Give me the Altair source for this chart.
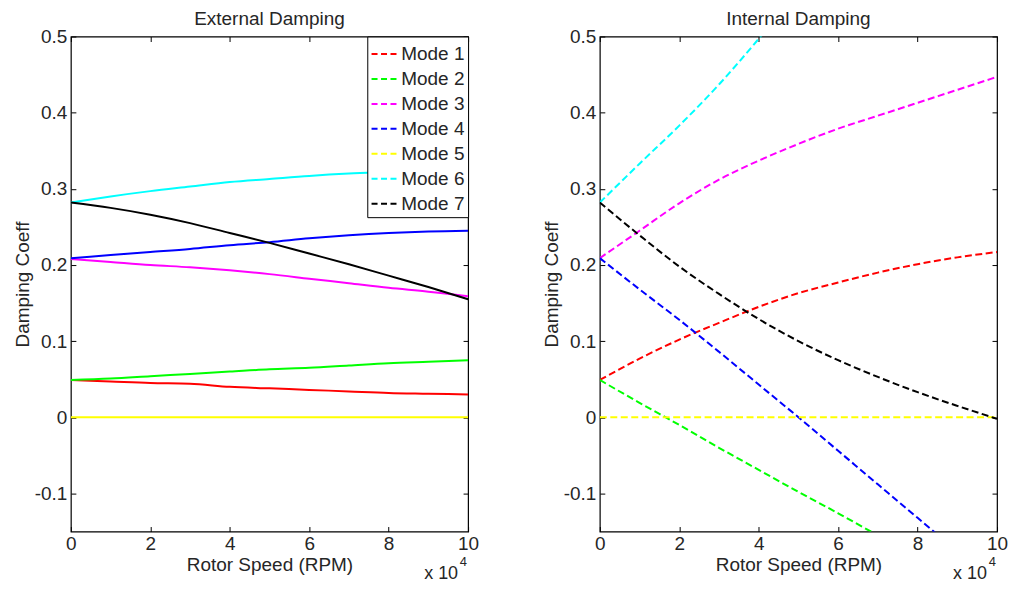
import altair as alt
import pandas as pd

rpm = [0, 10000, 20000, 30000, 40000, 50000, 60000, 70000, 80000, 90000, 100000]
modes = ["Mode 1", "Mode 2", "Mode 3", "Mode 4", "Mode 5", "Mode 6", "Mode 7"]
colors = ["#ff0000", "#00ff00", "#ff00ff", "#0000ff", "#ffff00", "#00ffff", "#000000"]

# External damping (solid lines)
ext_m1 = [0.049, 0.047, 0.045, 0.044, 0.040, 0.038, 0.036, 0.034, 0.032, 0.031, 0.030]
ext_m2 = [0.049, 0.051, 0.054, 0.057, 0.060, 0.063, 0.065, 0.068, 0.071, 0.073, 0.075]
ext_m3 = [0.208, 0.204, 0.200, 0.197, 0.193, 0.188, 0.182, 0.176, 0.170, 0.165, 0.159]
ext_m4 = [0.209, 0.213, 0.217, 0.221, 0.226, 0.230, 0.235, 0.239, 0.242, 0.244, 0.245]
ext_m5 = [0.0, 0.0, 0.0, 0.0, 0.0, 0.0, 0.0, 0.0, 0.0, 0.0, 0.0]
ext_m6 = [0.282, 0.290, 0.297, 0.303, 0.309, 0.313, 0.317, 0.320, 0.322, 0.324, 0.325]
ext_m7 = [0.282, 0.275, 0.266, 0.255, 0.242, 0.229, 0.215, 0.201, 0.186, 0.171, 0.155]

# Internal damping (dashed lines)
int_m1 = [0.049, 0.077, 0.102, 0.124, 0.145, 0.163, 0.177, 0.190, 0.201, 0.210, 0.217]
int_m2 = [0.049, 0.019, -0.010, -0.040, -0.069, -0.098, -0.126, -0.155, -0.183, -0.211, -0.239]
int_m3 = [0.209, 0.245, 0.281, 0.312, 0.337, 0.359, 0.379, 0.396, 0.413, 0.430, 0.447]
int_m4 = [0.209, 0.168, 0.128, 0.086, 0.043, 0.000, -0.044, -0.088, -0.132, -0.176, -0.220]
int_m5 = [0.0, 0.0, 0.0, 0.0, 0.0, 0.0, 0.0, 0.0, 0.0, 0.0, 0.0]
int_m6 = [0.282, 0.333, 0.383, 0.437, 0.497, 0.560, 0.625, 0.690, 0.755, 0.820, 0.885]
int_m7 = [0.282, 0.239, 0.198, 0.162, 0.129, 0.100, 0.075, 0.053, 0.033, 0.015, -0.002]

titles = ["External Damping", "Internal Damping"]
x_ticks = [0, 20000, 40000, 60000, 80000, 100000]
y_ticks = [-0.1, 0.0, 0.1, 0.2, 0.3, 0.4, 0.5]
x_domain = [0, 100000]
y_domain = [-0.15, 0.5]

FONT = "Liberation Sans"
TXT = "#262626"
W, H = 398, 496


def make_df(series):
    rows = []
    for m, vals in zip(modes, series):
        for r, v in zip(rpm, vals):
            rows.append({"rpm": r, "coef": v, "mode": m})
    return pd.DataFrame(rows)


ext_df = make_df([ext_m1, ext_m2, ext_m3, ext_m4, ext_m5, ext_m6, ext_m7])
int_df = make_df([int_m1, int_m2, int_m3, int_m4, int_m5, int_m6, int_m7])

xscale = alt.Scale(domain=x_domain, nice=False, zero=False)
yscale = alt.Scale(domain=y_domain, nice=False, zero=False)
cscale = alt.Scale(domain=modes, range=colors)

ylabel_expr = ("datum.value < -0.0001 ? '-' + format(-datum.value, '.1f') : "
               "(abs(datum.value) < 0.0001 ? '0' : format(datum.value, '.1f'))")


def tick_axis(orient, values):
    return alt.Axis(orient=orient, values=values, labels=False, domain=False, grid=False,
                    ticks=True, tickSize=5, offset=-5, tickColor="#000", tickWidth=1)


def panel(df, title, dashed, show_legend):
    base = alt.Chart(df)
    line_kwargs = dict(clip=True, strokeWidth=2, interpolate="monotone")
    if dashed:
        line_kwargs["strokeDash"] = [7, 3.5]
    if show_legend:
        legend = alt.Legend(orient="top-right", offset=0, title=None, strokeColor="#000",
                            fillColor="#fff", padding=3, labelFontSize=19, labelFont=FONT,
                            labelColor=TXT, symbolType="stroke", symbolSize=700,
                            symbolStrokeWidth=2, symbolDash=[6, 3.5], rowPadding=-1,
                            labelOffset=2, cornerRadius=0)
        color = alt.Color("mode:N", scale=cscale, legend=legend)
    else:
        color = alt.Color("mode:N", scale=cscale, legend=None)

    lines = base.mark_line(**line_kwargs).encode(
        x=alt.X("rpm:Q", scale=xscale,
                axis=alt.Axis(values=x_ticks, labelExpr="format(datum.value / 10000, 'd')",
                              ticks=False, tickSize=0, domain=False, grid=False,
                              labelPadding=3, titlePadding=2, labelFlush=False,
                              orient="bottom"),
                title="Rotor Speed (RPM)"),
        y=alt.Y("coef:Q", scale=yscale,
                axis=alt.Axis(values=y_ticks, labelExpr=ylabel_expr, ticks=False, tickSize=0,
                              domain=False, grid=False, labelPadding=4, titlePadding=2,
                              labelFlush=False, orient="left"),
                title="Damping Coeff"),
        color=color,
        order=alt.Order("rpm:Q"),
    )

    t_bl = base.mark_line(opacity=0, clip=True).encode(
        x=alt.X("rpm:Q", scale=xscale, axis=tick_axis("bottom", x_ticks), title=None),
        y=alt.Y("coef:Q", scale=yscale, axis=tick_axis("left", y_ticks), title=None),
    )
    t_tr = base.mark_line(opacity=0, clip=True).encode(
        x=alt.X("rpm:Q", scale=xscale, axis=tick_axis("top", x_ticks), title=None),
        y=alt.Y("coef:Q", scale=yscale, axis=tick_axis("right", y_ticks), title=None),
    )

    ann_df = pd.DataFrame({"rpm": [x_domain[1]], "mid": [sum(x_domain) / 2],
                           "main": ["x 10"], "sup": ["4"], "ttl": [title]})
    ann_title = alt.Chart(ann_df).mark_text(align="center", baseline="top", fontSize=19,
                                            font=FONT, color=TXT).encode(
        x=alt.X("mid:Q", scale=xscale, axis=None), y=alt.value(-27), text="ttl:N")
    ann_main = alt.Chart(ann_df).mark_text(align="right", baseline="alphabetic", fontSize=18,
                                           font=FONT, color=TXT, dx=-10).encode(
        x=alt.X("rpm:Q", scale=xscale, axis=None), y=alt.value(H + 48), text="main:N")
    ann_sup = alt.Chart(ann_df).mark_text(align="right", baseline="alphabetic", fontSize=13,
                                          font=FONT, color=TXT, dx=-1).encode(
        x=alt.X("rpm:Q", scale=xscale, axis=None), y=alt.value(H + 35), text="sup:N")

    return alt.layer(lines, t_bl, t_tr, ann_title, ann_main, ann_sup).resolve_axis(
        x="independent", y="independent"
    ).properties(width=W, height=H)


left = panel(ext_df, titles[0], dashed=False, show_legend=True)
right = panel(int_df, titles[1], dashed=True, show_legend=False)

chart = alt.hconcat(left, right, spacing=61).resolve_scale(color="independent").properties(
    padding={"left": 4, "top": 0, "right": 0, "bottom": 0}
).configure_view(stroke="#000", strokeWidth=1.2).configure_axis(
    labelFont=FONT, titleFont=FONT, labelFontSize=19, titleFontSize=19,
    labelColor=TXT, titleColor=TXT, titleFontWeight="normal"
)

chart.save("out.html", embed_options={"renderer": "svg", "actions": False})
